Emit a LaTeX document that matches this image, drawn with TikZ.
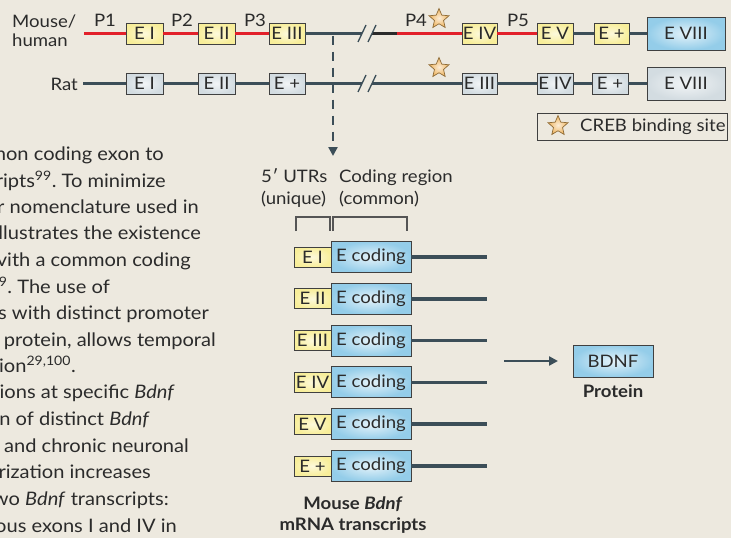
\documentclass[tikz,border=0pt]{standalone}
\usepackage{fontspec}
\setmainfont{Lato}[FakeStretch=1.08]
\usetikzlibrary{arrows.meta,shapes.geometric}
\frenchspacing

\definecolor{paper}{HTML}{EDE9DF}
\definecolor{ink}{HTML}{2B2B2B}
\definecolor{genegray}{HTML}{3C4E58}
\definecolor{promred}{HTML}{E2202A}
\definecolor{exonyellow}{HTML}{F8EE9A}
\definecolor{exonblue}{HTML}{94CDE9}
\definecolor{exongray}{HTML}{D3DCE1}
\definecolor{starorange}{HTML}{EFB45E}

\tikzset{
	lbl/.style={font=\fontsize{17.2}{19}\selectfont, text=ink, inner sep=0pt},
	body/.style={font=\fontsize{18.6}{22}\selectfont, text=ink, inner sep=0pt, anchor=base east},
	exon/.style={lbl, draw=ink!90, line width=0.9pt, minimum height=21pt, minimum width=37pt},
	yexon/.style={exon, inner color=exonyellow!35!white, outer color=exonyellow},
	gexon/.style={exon, inner color=exongray!30!white, outer color=exongray},
	bexon/.style={exon, inner color=exonblue!25!white, outer color=exonblue, minimum height=33pt},
	utr/.style={yexon, minimum height=20pt, minimum width=37pt},
	coding/.style={bexon, minimum height=31pt, minimum width=80pt},
	gene/.style={line width=3.6pt, genegray},
	prom/.style={line width=3.6pt, promred},
	cut/.style={line width=1.3pt, genegray},
	creb/.style={star, star points=5, star point ratio=2.2, minimum size=21pt, inner sep=0pt,
		draw=starorange!60!black, line width=0.7pt, inner color=starorange!25!white, outer color=starorange},
}

\begin{document}
\begin{tikzpicture}[x=1pt,y=-1pt]
	\useasboundingbox (0,0) rectangle (731,538);
	\clip (0,0) rectangle (731,538);
	\fill [paper] (0,0) rectangle (731,538);

	% mouse/human gene
	\node (mlab) at (12,31) [lbl, anchor=west, align=left] {Mouse/\\human};
	\coordinate (mstart) at (84,33.5);
	\coordinate (mcutL) at (362,33.5);
	\coordinate (mcutR) at (372,33.5);
	\coordinate (mp4) at (397,33.5);
	\node (mEI) at (144.5,33.5) [yexon] {E I};
	\node (mEII) at (216.5,33.5) [yexon] {E II};
	\node (mEIII) at (287,33.5) [yexon, minimum width=36pt] {E III};
	\node (mEIV) at (479.5,33.5) [yexon, minimum width=35pt] {E IV};
	\node (mEV) at (555,33.5) [yexon, minimum width=36pt] {E V};
	\node (mEplus) at (611.5,33.5) [yexon, minimum width=35pt] {E +};
	\node (mEVIII) at (686,33.5) [bexon, minimum width=78pt] {E VIII};

	\draw [prom] (mstart) -- (mEI);
	\draw [prom] (mEI) -- (mEII);
	\draw [prom] (mEII) -- (mEIII);
	\draw [gene] (mEIII) -- (mcutL);
	\draw [line width=3.6pt, ink] (mcutR) -- (mp4);
	\draw [prom] (mp4) -- (mEIV);
	\draw [prom] (mEIV) -- (mEV);
	\draw [gene] (mEV) -- (mEplus);
	\draw [gene] (mEplus) -- (mEVIII);
	\draw [cut] (358,42) -- (366,25) (368,42) -- (376,25);

	\node (P1) at (105,27) [lbl, anchor=base] {P1};
	\node (P2) at (182,27) [lbl, anchor=base] {P2};
	\node (P3) at (255,27) [lbl, anchor=base] {P3};
	\node (P4) at (416,27) [lbl, anchor=base] {P4};
	\node (P5) at (518,27) [lbl, anchor=base] {P5};
	\node (mstar) at (439,19) [creb] {};

	% rat gene
	\node (rlab) at (78,84) [lbl, anchor=east] {Rat};
	\coordinate (rstart) at (83,83.5);
	\coordinate (rcutL) at (362,83.5);
	\coordinate (rcutR) at (372,83.5);
	\node (rEI) at (144.5,83.5) [gexon] {E I};
	\node (rEII) at (216.5,83.5) [gexon] {E II};
	\node (rEplusA) at (287,83.5) [gexon, minimum width=36pt] {E +};
	\node (rEIII) at (479.5,83.5) [gexon, minimum width=35pt] {E III};
	\node (rEIV) at (555,83.5) [gexon, minimum width=36pt] {E IV};
	\node (rEplusB) at (610,83.5) [gexon, minimum width=36pt] {E +};
	\node (rEVIII) at (686,83.5) [gexon, minimum width=78pt, minimum height=33pt] {E VIII};

	\draw [gene] (rstart) -- (rEI);
	\draw [gene] (rEI) -- (rEII);
	\draw [gene] (rEII) -- (rEplusA);
	\draw [gene] (rEplusA) -- (rcutL);
	\draw [gene] (rcutR) -- (rEIII);
	\draw [gene] (rEIII) -- (rEIV);
	\draw [gene] (rEIV) -- (rEplusB);
	\draw [gene] (rEplusB) -- (rEVIII);
	\draw [cut] (358,92) -- (366,75) (368,92) -- (376,75);
	\node (rstar) at (439,68) [creb] {};

	% legend
	\node (legend) at (632,126.5) [draw=ink!90, line width=0.9pt, minimum width=190pt, minimum height=27pt] {};
	\node (lstar) at (558,126) [creb] {};
	\node (ltext) at (580,126.5) [lbl, anchor=west] {CREB binding site};

	% transcripts
	\coordinate (split) at (333,35.5);
	\coordinate (utrs) at (333,156);
	\draw [-{Triangle[length=9pt,width=9pt]}, genegray, line width=2.6pt, dash pattern=on 9pt off 7pt] (split) -> (utrs);

	\node (utrlab) at (261,182) [lbl, anchor=base west] {5\kern0.5pt\char"2032\ UTRs};
	\node (utrlabB) at (261,204) [lbl, anchor=base west] {(unique)};
	\node (codlab) at (339,182) [lbl, anchor=base west] {Coding region};
	\node (codlabB) at (339,204) [lbl, anchor=base west] {(common)};
	\draw [line width=1.1pt, ink!80] (296,231) -- (296,217) -- (330,217) -- (330,231);
	\draw [line width=1.1pt, ink!80] (333,231) -- (333,217) -- (407,217) -- (407,231);

	\foreach \lab [count=\i] in {E I, E II, E III, E IV, E V, E +} {
		\node (utr\i) at (312.5,215.2+41.8*\i) [utr] {\lab};
		\node (cod\i) at (371,215.2+41.8*\i) [coding] {E coding};
		\coordinate (tail\i) at (487,215.2+41.8*\i);
		\draw [gene] (cod\i) -- (tail\i);
	}
	\node (mrna) at (353,497) [lbl, anchor=north, align=center, font=\fontsize{17.2}{21}\bfseries] {Mouse \textit{Bdnf}\\mRNA transcripts};

	% protein
	\node (bdnf) at (613,361) [bexon, minimum width=80pt, minimum height=32pt] {BDNF};
	\node (prot) at (613,397) [lbl, anchor=base, font=\fontsize{17.2}{19}\bfseries] {Protein};
	\coordinate (trans) at (504,361);
	\coordinate (arrend) at (558,361);
	\draw [-{Triangle[length=9pt,width=9pt]}, genegray, line width=2.6pt] (trans) -> (arrend);

	% running text
	\node (t1) at (164,160) [body] {mon coding exon to};
	\node (t2) at (166,187) [body] {ripts\textsuperscript{99}. To minimize};
	\node (t3) at (199,213) [body] {r nomenclature used in};
	\node (t4) at (201,239) [body] {llustrates the existence};
	\node (t5) at (191,266) [body] {vith a common coding};
	\node (t6) at (110,293) [body] {\textsuperscript{99}. The use of};
	\node (t7) at (209,319) [body] {s with distinct promoter};
	\node (t8) at (216,346) [body] {protein, allows temporal};
	\node (t9) at (76,372) [body] {sion\textsuperscript{29,100}.};
	\node (t10) at (175,398) [body] {ions at specific \textit{Bdnf}};
	\node (t11) at (150,425) [body] {n of distinct \textit{Bdnf}};
	\node (t12) at (189,452) [body] {and chronic neuronal};
	\node (t13) at (151,478) [body] {rization increases};
	\node (t14) at (169,505) [body] {wo \textit{Bdnf} transcripts:};
	\node (t15) at (177,532) [body] {ous exons I and IV in};
\end{tikzpicture}
\end{document}
